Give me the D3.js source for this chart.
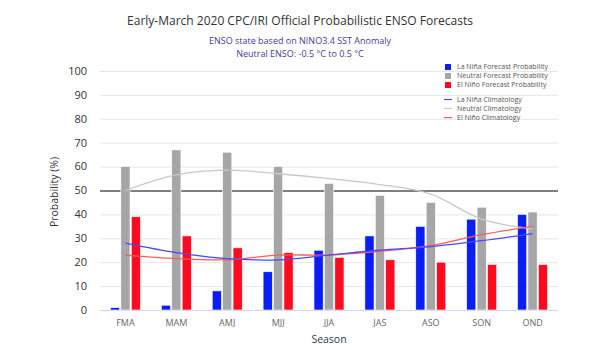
<!DOCTYPE html>
<html>
<head>
<meta charset="utf-8">
<script src="https://cdn.jsdelivr.net/npm/d3@7"></script>
<style>
  body { margin: 0; background: #fff; }
  text { font-family: "Open Sans", "Lucida Grande", sans-serif; }
</style>
</head>
<body>
<script>
const seasons = ["FMA", "MAM", "AMJ", "MJJ", "JJA", "JAS", "ASO", "SON", "OND"];
const laNina = [1, 2, 8, 16, 25, 31, 35, 38, 40];
const neutral = [60, 67, 66, 60, 53, 48, 45, 43, 41];
const elNino = [39, 31, 26, 24, 22, 21, 20, 19, 19];
const laNinaClim = [28, 24, 21.5, 21, 23, 25, 26.5, 29, 32];
const neutralClim = [50, 56.5, 58.5, 57, 55, 52.5, 48.5, 38, 34];
const elNinoClim = [23, 21.5, 21, 23, 23, 24.5, 27, 31.5, 35];
const yTicks = [0, 10, 20, 30, 40, 50, 60, 70, 80, 90, 100];

const width = 600, height = 352;
const margin = {top: 71, right: 42, bottom: 42, left: 100};

const svg = d3.select("body").append("svg")
    .attr("width", width)
    .attr("height", height);

const x = d3.scaleBand()
    .domain(seasons)
    .range([margin.left, width - margin.right]);

const xInner = d3.scaleBand()
    .domain(["nina", "neutral", "nino"])
    .range([-15, 15])
    .paddingInner(0.12);

const y = d3.scaleLinear()
    .domain([0, 100])
    .range([310, margin.top]);

// grid
svg.append("g").selectAll("line")
    .data(yTicks.filter(d => d > 0))
    .enter().append("line")
      .attr("x1", margin.left)
      .attr("x2", width - margin.right)
      .attr("y1", d => y(d) + 0.5)
      .attr("y2", d => y(d) + 0.5)
      .attr("stroke", d => d == 50 ? "#000" : "#e6e6e6")
      .attr("stroke-width", 1);

// baseline
svg.append("line")
    .attr("x1", margin.left)
    .attr("x2", width - margin.right)
    .attr("y1", y(0) + 0.5)
    .attr("y2", y(0) + 0.5)
    .attr("stroke", "#ccd6eb");

// y tick labels
svg.append("g").selectAll("text")
    .data(yTicks)
    .enter().append("text")
      .attr("x", 87)
      .attr("y", d => y(d))
      .attr("dy", "0.35em")
      .attr("text-anchor", "end")
      .attr("font-size", 11)
      .attr("fill", "#333")
      .text(d => d);

// bars
const series = [
  {key: "nina", values: laNina, color: "#0a1ef5"},
  {key: "neutral", values: neutral, color: "#a6a6a6"},
  {key: "nino", values: elNino, color: "#ff0a1e"}
];

series.forEach(s => {
  svg.append("g").selectAll("rect")
      .data(seasons)
    .enter().append("rect")
      .attr("x", d => x(d) + x.bandwidth() / 2 + xInner(s.key))
      .attr("width", xInner.bandwidth())
      .attr("y", (d, i) => y(s.values[i]))
      .attr("height", (d, i) => y(0) - y(s.values[i]))
      .attr("fill", s.color)
      .attr("stroke", "#fff")
      .attr("stroke-width", 0.6);
});

// climatology lines
const line = d3.line()
    .x((d, i) => x(seasons[i]) + x.bandwidth() / 2)
    .y(d => y(d))
    .curve(d3.curveCatmullRom.alpha(0.5));

const clim = [
  {values: neutralClim, color: "#c8c8c8"},
  {values: elNinoClim, color: "#ff5a5a"},
  {values: laNinaClim, color: "#4a4aff"}
];

clim.forEach(c => {
  svg.append("path")
      .datum(c.values)
      .attr("d", line)
      .attr("fill", "none")
      .attr("stroke", c.color)
      .attr("stroke-width", 1.3);
});

// titles
svg.append("text")
    .attr("x", 300)
    .attr("y", 25)
    .attr("text-anchor", "middle")
    .attr("font-size", 12)
    .attr("fill", "#333")
    .text("Early-March 2020 CPC/IRI Official Probabilistic ENSO Forecasts");

svg.append("text")
    .attr("x", 300)
    .attr("y", 44)
    .attr("text-anchor", "middle")
    .attr("font-size", 9)
    .attr("fill", "#4b3a9c")
    .text("ENSO state based on NINO3.4 SST Anomaly");

svg.append("text")
    .attr("x", 300)
    .attr("y", 57)
    .attr("text-anchor", "middle")
    .attr("font-size", 9)
    .attr("fill", "#4b3a9c")
    .text("Neutral ENSO: -0.5 °C to 0.5 °C");

// x labels
svg.append("g").selectAll("text")
    .data(seasons)
    .enter().append("text")
      .attr("x", d => x(d) + x.bandwidth() / 2)
      .attr("y", 326)
      .attr("text-anchor", "middle")
      .attr("font-size", 9)
      .attr("fill", "#666")
      .text(d => d);

svg.append("text")
    .attr("x", (margin.left + width - margin.right) / 2)
    .attr("y", 343)
    .attr("text-anchor", "middle")
    .attr("font-size", 10.5)
    .attr("fill", "#2b3f4f")
    .text("Season");

svg.append("text")
    .attr("transform", "translate(58,192) rotate(-90)")
    .attr("text-anchor", "middle")
    .attr("font-size", 10.5)
    .attr("fill", "#333")
    .text("Probability (%)");

// legend
const legendBars = [
  {label: "La Niña Forecast Probability", color: "#0a1ef5"},
  {label: "Neutral Forecast Probability", color: "#a6a6a6"},
  {label: "El Niño Forecast Probability", color: "#ff0a1e"}
];
const legendLines = [
  {label: "La Niña Climatology", color: "#4a4aff"},
  {label: "Neutral Climatology", color: "#c8c8c8"},
  {label: "El Niño Climatology", color: "#ff5a5a"}
];

const lg = svg.append("g");
legendBars.forEach((d, i) => {
  const yy = 67 + i * 9;
  lg.append("rect")
      .attr("x", 445).attr("y", yy - 3)
      .attr("width", 6).attr("height", 6)
      .attr("fill", d.color);
  lg.append("text")
      .attr("x", 457).attr("y", yy)
      .attr("dy", "0.35em")
      .attr("font-size", 7)
      .attr("fill", "#555")
      .text(d.label);
});
legendLines.forEach((d, i) => {
  const yy = 99.5 + i * 9;
  lg.append("line")
      .attr("x1", 444).attr("x2", 452)
      .attr("y1", yy).attr("y2", yy)
      .attr("stroke", d.color)
      .attr("stroke-width", 1.2);
  lg.append("text")
      .attr("x", 457).attr("y", yy)
      .attr("dy", "0.35em")
      .attr("font-size", 7)
      .attr("fill", "#555")
      .text(d.label);
});
</script>
</body>
</html>
